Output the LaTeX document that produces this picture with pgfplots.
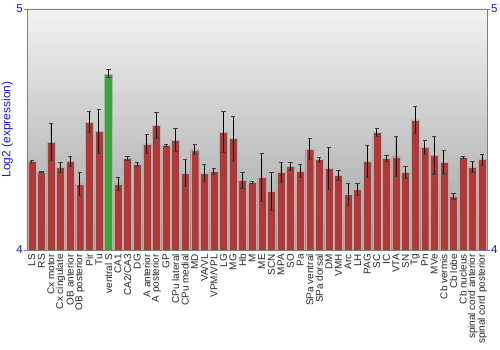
\documentclass[border=0pt]{standalone}
\usepackage{fontspec}
\setmainfont{Liberation Sans}
\usepackage{pgfplots}
\pgfplotsset{compat=1.18}
\definecolor{axgray}{HTML}{808080}
\definecolor{tickblue}{HTML}{1515F0}
\definecolor{redM}{HTML}{B23838}
\definecolor{greenM}{HTML}{3AA63A}
\definecolor{bgtop}{HTML}{F2F2F2}
\definecolor{bgbot}{HTML}{A2A2A2}
\begin{document}
\begin{tikzpicture}
\useasboundingbox (0,0) rectangle (500bp,350bp);
\begin{axis}[
  at={(27bp,100bp)}, anchor=south west,
  scale only axis, width=460bp, height=241bp,
  xmin=-0.5, xmax=47.5, ymin=4, ymax=5,
  ytick={4,5},
  xtick={0,...,47},
  xticklabels={LS,RS,Cx motor,Cx cingulate,OB anterior,OB posterior,Pir,Tu,ventral S,CA1,CA2/CA3,DG,A anterior,A posterior,GP,CPu lateral,CPu medial,MD,VA/VL,VPM/VPL,LG,MG,Hb,M,ME,SCN,MPA,SO,Pa,SPa ventral,SPa dorsal,DM,VMH,Arc,LH,PAG,SC,IC,VTA,SN,Tg,Pn,MVe,Cb vermis,Cb lobe,Cb nucleus,spinal cord anterior,spinal cord posterior},
  xticklabel style={rotate=90, anchor=east, font=\fontsize{10}{11}\selectfont, text=black!85, inner sep=1bp},
  x tick style={draw=none},
  ytick pos=left,
  y tick style={axgray, line width=0.8bp},
  major tick length=3bp,
  tick align=outside,
  yticklabel style={text=tickblue, font=\fontsize{11.5}{13}\selectfont, inner sep=1bp},
  /pgf/number format/assume math mode=true,
  axis line style={axgray, line width=0.8bp},
  ylabel={Log2 (expression)},
  every axis y label/.style={at={(ticklabel cs:0.5)}, rotate=90, anchor=south, yshift=-1bp, text=tickblue, font=\fontsize{12}{14}\selectfont},
  axis background/.style={top color=bgtop, bottom color=bgbot},
  ybar, bar width=8bp, bar shift=0pt,
  error bars/y dir=both, error bars/y explicit,
  error bars/error bar style={black, line width=0.8bp},
  error bars/error mark options={rotate=90, mark size=2.2bp, line width=1bp, black!75},
]
\addplot[draw=black!30, line width=0.4bp, fill=redM]
coordinates {
(0,4.368) +- (0,0.005)
(1,4.324) +- (0,0.003)
(2,4.447) +- (0,0.076)
(3,4.343) +- (0,0.021)
(4,4.367) +- (0,0.020)
(5,4.274) +- (0,0.046)
(6,4.530) +- (0,0.043)
(7,4.491) +- (0,0.092)
(9,4.274) +- (0,0.026)
(10,4.379) +- (0,0.007)
(11,4.356) +- (0,0.008)
(12,4.440) +- (0,0.040)
(13,4.516) +- (0,0.055)
(14,4.434) +- (0,0.004)
(15,4.455) +- (0,0.048)
(16,4.318) +- (0,0.056)
(17,4.416) +- (0,0.020)
(18,4.318) +- (0,0.035)
(19,4.325) +- (0,0.012)
(20,4.488) +- (0,0.085)
(21,4.462) +- (0,0.094)
(22,4.288) +- (0,0.032)
(23,4.280) +- (0,0.003)
(24,4.300) +- (0,0.100)
(25,4.242) +- (0,0.080)
(26,4.321) +- (0,0.041)
(27,4.346) +- (0,0.018)
(28,4.327) +- (0,0.028)
(29,4.418) +- (0,0.044)
(30,4.375) +- (0,0.010)
(31,4.338) +- (0,0.089)
(32,4.309) +- (0,0.022)
(33,4.230) +- (0,0.047)
(34,4.251) +- (0,0.026)
(35,4.367) +- (0,0.066)
(36,4.487) +- (0,0.016)
(37,4.380) +- (0,0.012)
(38,4.387) +- (0,0.082)
(39,4.321) +- (0,0.025)
(40,4.540) +- (0,0.055)
(41,4.425) +- (0,0.028)
(42,4.392) +- (0,0.079)
(43,4.364) +- (0,0.050)
(44,4.222) +- (0,0.012)
(45,4.385) +- (0,0.005)
(46,4.345) +- (0,0.024)
(47,4.375) +- (0,0.023)
};
\addplot[draw=black!30, line width=0.4bp, fill=greenM]
coordinates {
(8,4.731) +- (0,0.017)
};
\end{axis}
\begin{axis}[
  at={(27bp,100bp)}, anchor=south west,
  scale only axis, width=460bp, height=241bp,
  xmin=-0.5, xmax=47.5, ymin=4, ymax=5,
  ytick={4,5}, hide x axis,
  axis y line*=right,
  y tick style={axgray, line width=0.8bp},
  major tick length=3bp,
  tick align=outside,
  yticklabel style={text=tickblue, font=\fontsize{11.5}{13}\selectfont, inner sep=1bp},
  /pgf/number format/assume math mode=true,
  axis line style={axgray, line width=0.8bp, -},
]
\end{axis}
\end{tikzpicture}
\end{document}
